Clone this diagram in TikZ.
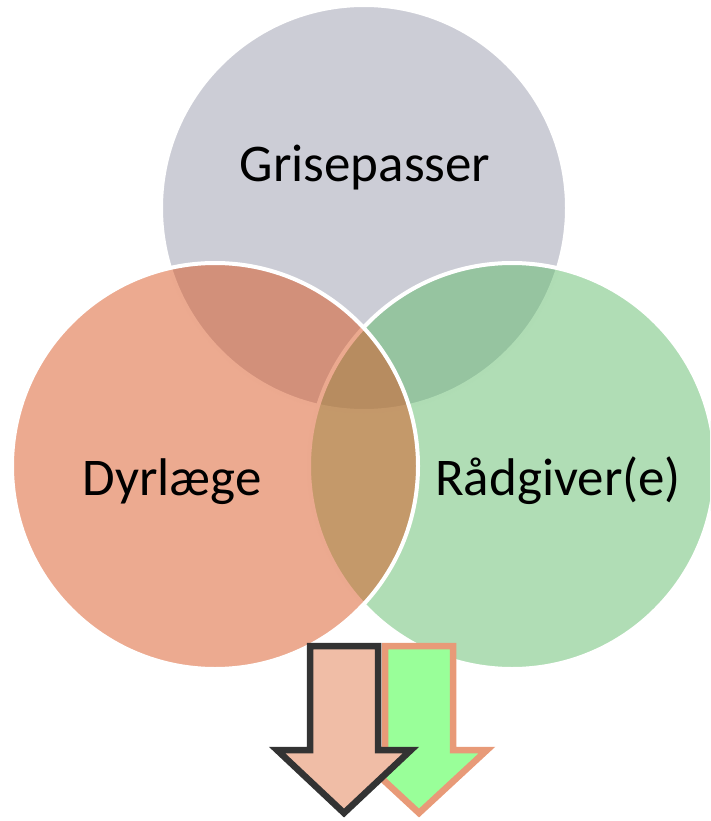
\documentclass[tikz,border=0pt]{standalone}
\usepackage{fontspec}
\setmainfont{Carlito}
\usetikzlibrary{positioning}
\definecolor{griseC}{RGB}{153,155,173}
\definecolor{dyrC}{RGB}{217,85,33}
\definecolor{raadC}{RGB}{97,187,107}
\definecolor{pilA}{RGB}{240,189,166}
\definecolor{pilB}{RGB}{153,255,153}
\definecolor{pilBline}{RGB}{232,154,120}
\tikzset{venn/.style={circle,draw=white,line width=4pt,minimum size=406pt,inner sep=0pt,fill opacity=0.5}}
\tikzset{vennlabel/.style={font=\fontsize{53}{62}\selectfont,anchor=base,inner sep=0pt}}
\tikzset{pil/.style={line width=6.5pt,line join=miter}}

\begin{document}
\begin{tikzpicture}[x=1pt,y=-1pt]
        \useasboundingbox (0,0) rectangle (710,821);
        \clip (0,0) rectangle (710,821);
        \node[venn,fill=griseC] (grise) at (364,208) {};
        \node[venn,fill=raadC] (raad) at (512,466) {};
        \node[venn,fill=dyrC] (dyr) at (215,466) {};
        \node[vennlabel] (lgrise) at (365,182) {Grisepasser};
        \node[vennlabel] (ldyr) at (172,495) {Dyrlæge};
        \node[vennlabel] (lraad) at (558,495) {Rådgiver(e)};
        % pile
        \draw[pil,draw=pilBline,fill=pilB] (385,646) -- (453,646) -- (453,750) -- (487,750)
            -- (419,813) -- (351,750) -- (385,750) -- cycle;
        \draw[pil,draw=black!80,fill=pilA] (310,646) -- (378,646) -- (378,750) -- (411,750)
            -- (344,813) -- (277,750) -- (310,750) -- cycle;
    \end{tikzpicture}
\end{document}
